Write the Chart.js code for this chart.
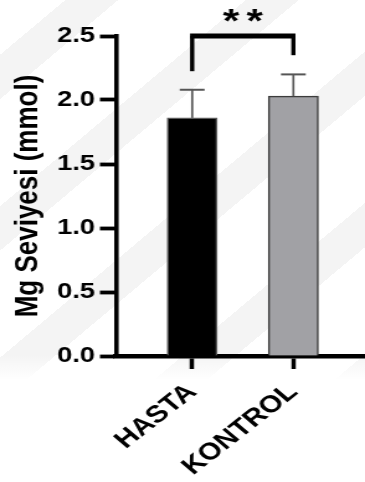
<!DOCTYPE html>
<html>
<head>
<meta charset="utf-8">
<script src="https://cdn.jsdelivr.net/npm/chart.js@4/dist/chart.umd.min.js"></script>
<style>
  html, body { margin: 0; padding: 0; overflow: hidden; background: #fff; }
  #wrap {
    position: relative; width: 365px; height: 482px; overflow: hidden;
    background:
      linear-gradient(to bottom, rgba(255,255,255,0) 0, rgba(255,255,255,0) 355px, #fff 380px),
      repeating-linear-gradient(140deg, #ffffff 0 42px, #f4f4f4 42px 76px, #ffffff 76px 116px);
  }
  #c { position: absolute; left: 0; top: 0; transform-origin: 0 0; transform: scaleX(1.2415); }
</style>
</head>
<body>
<div id="wrap"><canvas id="c" width="294" height="482" style="width:294px;height:482px"></canvas></div>
<script>
// ---- data ----
const categories = ['HASTA', 'KONTROL'];
const means = [1.86, 2.03];
const sdUpper = [0.22, 0.17];
const yTicks = [0.0, 0.5, 1.0, 1.5, 2.0, 2.5];
const yTitle = 'Mg Seviyesi (mmol)';
const sigLabel = '**';
const bracketTop = 2.5;
const bracketLegs = [2.225, 2.35];
const sigLabelY = 2.66;

const barColors = ['#000000', '#a1a1a5'];
const barBorders = ['#5a5a5a', '#3c3c3c'];

const FONT = '"Liberation Sans", Arial, Helvetica, sans-serif';

const overlay = {
  id: 'overlay',
  afterDatasetsDraw(chart) {
    const ctx = chart.ctx;
    const xs = chart.scales.x, ys = chart.scales.y;
    ctx.save();
    // error bars (upper only)
    ctx.strokeStyle = '#555555';
    means.forEach((m, i) => {
      const x = xs.getPixelForValue(i + 1);
      const y0 = ys.getPixelForValue(m);
      const y1 = ys.getPixelForValue(m + sdUpper[i]);
      ctx.lineWidth = 1.7;
      ctx.beginPath(); ctx.moveTo(x, y0); ctx.lineTo(x, y1); ctx.stroke();
      ctx.lineWidth = 2;
      ctx.beginPath(); ctx.moveTo(x - 10, y1); ctx.lineTo(x + 10, y1); ctx.stroke();
    });
    // significance bracket
    const xa = xs.getPixelForValue(1), xb = xs.getPixelForValue(2);
    const yt = ys.getPixelForValue(bracketTop);
    ctx.strokeStyle = '#000';
    ctx.lineWidth = 4.8;
    ctx.beginPath(); ctx.moveTo(xa - 1.7, yt); ctx.lineTo(xb + 1.7, yt); ctx.stroke();
    ctx.lineWidth = 3.4;
    ctx.beginPath(); ctx.moveTo(xa, yt); ctx.lineTo(xa, ys.getPixelForValue(bracketLegs[0])); ctx.stroke();
    ctx.beginPath(); ctx.moveTo(xb, yt); ctx.lineTo(xb, ys.getPixelForValue(bracketLegs[1])); ctx.stroke();
    // stars, each centred on its own glyph box
    ctx.fillStyle = '#000';
    ctx.font = 'bold 34px ' + FONT;
    ctx.textAlign = 'center';
    ctx.textBaseline = 'alphabetic';
    const chars = sigLabel.split('');
    const cy = ys.getPixelForValue(sigLabelY);
    const cx = (xa + xb) / 2;
    chars.forEach((ch, k) => {
      const m = ctx.measureText(ch);
      const base = cy + (m.actualBoundingBoxAscent - m.actualBoundingBoxDescent) / 2;
      const px = cx + (k - (chars.length - 1) / 2) * 19;
      ctx.fillText(ch, px, base);
    });
    ctx.restore();
  }
};

const chart = new Chart(document.getElementById('c'), {
  type: 'bar',
  data: {
    datasets: [{
      data: categories.map((c, i) => ({ x: i + 1, y: means[i] })),
      backgroundColor: barColors,
      borderColor: barBorders,
      borderWidth: 1.5,
      barThickness: 40.3
    }]
  },
  options: {
    responsive: false,
    animation: false,
    devicePixelRatio: 1,
    layout: { padding: { top: 36, right: 0, left: 0, bottom: 0 } },
    plugins: { legend: { display: false }, tooltip: { enabled: false } },
    scales: {
      x: {
        type: 'linear',
        offset: false,
        bounds: 'data',
        min: 0.248,
        max: 2.708,
        afterFit(s) { s.height = 126; },
        afterBuildTicks(s) { s.ticks = categories.map((c, i) => ({ value: i + 1 })); },
        border: { display: true, color: '#000', width: 4.5 },
        grid: { offset: false, drawOnChartArea: false, drawTicks: true, tickLength: 13, tickWidth: 3.5, tickColor: '#000' },
        ticks: {
          autoSkip: false,
          minRotation: 44, maxRotation: 44,
          padding: 9,
          color: '#000',
          font: { family: FONT, size: 24, weight: 'bold' },
          callback: (v) => categories[v - 1]
        }
      },
      y: {
        min: 0, max: 2.5,
        afterFit(s) { s.width = 93.5; },
        afterBuildTicks(s) { s.ticks = yTicks.map(v => ({ value: v })); },
        border: { display: true, color: '#000', width: 3.6 },
        grid: { drawOnChartArea: false, drawTicks: true, tickLength: 13, tickWidth: 3.8, tickColor: '#000' },
        ticks: {
          padding: 4,
          color: '#000',
          font: { family: FONT, size: 22, weight: 'bold' },
          callback: (v) => Number(v).toFixed(1)
        },
        title: {
          display: true,
          text: yTitle,
          color: '#000',
          font: { family: FONT, size: 26, weight: 'bold' },
          padding: { top: 7, bottom: 0 }
        }
      }
    }
  },
  plugins: [overlay]
});
</script>
</body>
</html>
